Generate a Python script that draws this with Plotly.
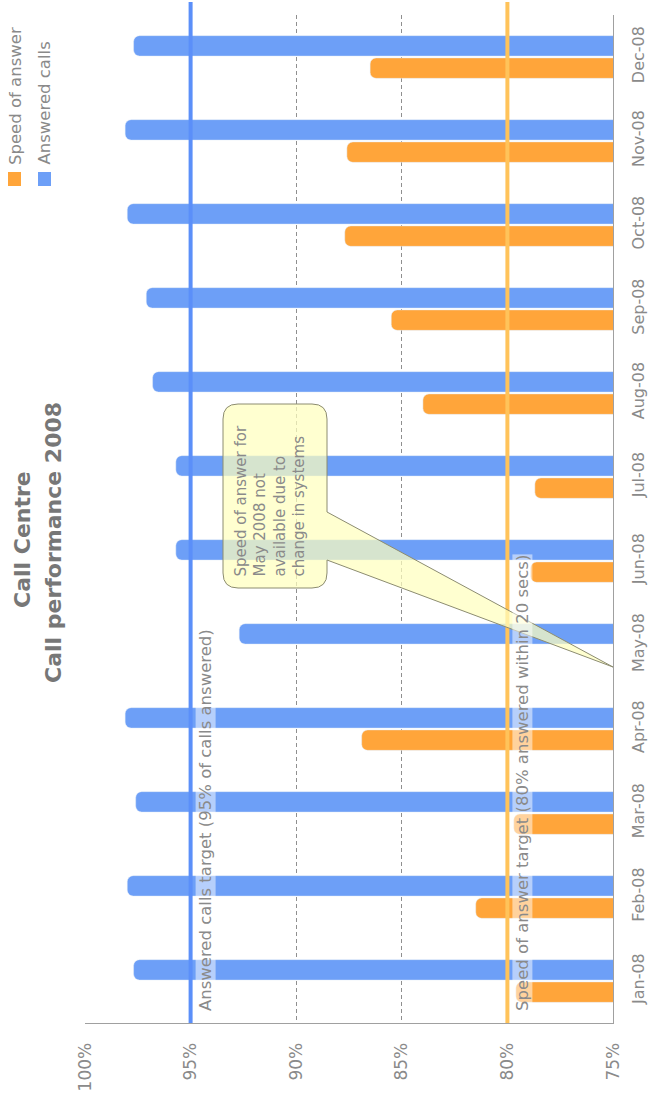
import plotly.graph_objects as go

months = ["Jan-08", "Feb-08", "Mar-08", "Apr-08", "May-08", "Jun-08",
          "Jul-08", "Aug-08", "Sep-08", "Oct-08", "Nov-08", "Dec-08"]
speed_of_answer = [79.6, 81.5, 79.7, 86.9, None, 78.9, 78.7, 84.0, 85.5, 87.7, 87.6, 86.5]
answered_calls = [97.7, 98.0, 97.6, 98.1, 92.7, 95.7, 95.7, 96.8, 97.1, 98.0, 98.1, 97.7]
answered_target = 95
speed_target = 80
value_ticks = [100, 95, 90, 85, 80, 75]
value_tick_labels = ["100%", "95%", "90%", "85%", "80%", "75%"]

ORANGE = "#ffa53a"
BLUE = "#6d9ff7"
GREY = "#8a8a8a"
FONT = "DejaVu Sans"

fig = go.Figure()
fig.add_trace(go.Bar(y=months, x=speed_of_answer, orientation="h", name="Speed of answer",
                     marker=dict(color=ORANGE, cornerradius=6), showlegend=False))
fig.add_trace(go.Bar(y=months, x=answered_calls, orientation="h", name="Answered calls",
                     marker=dict(color=BLUE, cornerradius=6), showlegend=False))

L, R, T, B = 85, 37, 15, 75
W, H = 650, 1098
pw, ph = W - L - R, H - T - B

def px(x):
    return (x - L) / pw

def py(y):
    return (H - B - y) / ph

shapes = [
    dict(type="line", xref="x", yref="paper", x0=answered_target, x1=answered_target,
         y0=0, y1=py(2), line=dict(color="#5b8ff9", width=4), layer="above"),
    dict(type="line", xref="x", yref="paper", x0=speed_target, x1=speed_target,
         y0=0, y1=py(2), line=dict(color="#ffc35a", width=4), layer="above"),
]

# callout box with pointer toward May-08
x0, x1 = px(223), px(327)
yt, yb = py(404), py(588)
rx, ry = 15 / pw, 15 / ph
pb1, pb2 = py(512), py(560)
tipx, tipy = px(613), py(667)
path = (f"M {x0+rx},{yt} L {x1-rx},{yt} Q {x1},{yt} {x1},{yt-ry} L {x1},{pb1} "
        f"L {tipx},{tipy} L {x1},{pb2} L {x1},{yb+ry} Q {x1},{yb} {x1-rx},{yb} "
        f"L {x0+rx},{yb} Q {x0},{yb} {x0},{yb+ry} L {x0},{yt-ry} Q {x0},{yt} {x0+rx},{yt} Z")
shapes.append(dict(type="path", xref="paper", yref="paper", path=path,
                   fillcolor="rgba(255,255,190,0.72)", line=dict(color="#8c8c70", width=1),
                   layer="above"))

# legend squares
shapes.append(dict(type="rect", xref="paper", yref="paper", x0=px(8), x1=px(21),
                   y0=py(186), y1=py(172), fillcolor=ORANGE, line=dict(width=0)))
shapes.append(dict(type="rect", xref="paper", yref="paper", x0=px(38), x1=px(51),
                   y0=py(186), y1=py(172), fillcolor=BLUE, line=dict(width=0)))

annotations = [
    dict(text="<b>Call Centre</b>", xref="paper", yref="paper", x=px(23), y=py(540),
         textangle=-90, showarrow=False, font=dict(family=FONT, size=22, color="#777777"),
         xanchor="center", yanchor="middle"),
    dict(text="<b>Call performance 2008</b>", xref="paper", yref="paper", x=px(53), y=py(543),
         textangle=-90, showarrow=False, font=dict(family=FONT, size=22, color="#777777"),
         xanchor="center", yanchor="middle"),
    dict(text="Speed of answer", xref="paper", yref="paper", x=px(15), y=py(167),
         textangle=-90, showarrow=False, font=dict(family=FONT, size=16.5, color=GREY),
         xanchor="center", yanchor="bottom"),
    dict(text="Answered calls", xref="paper", yref="paper", x=px(44), y=py(167),
         textangle=-90, showarrow=False, font=dict(family=FONT, size=16.5, color=GREY),
         xanchor="center", yanchor="bottom"),
    dict(text="Answered calls target (95% of calls answered)", xref="x", yref="paper",
         x=answered_target, y=py(1012), xshift=4, textangle=-90, showarrow=False,
         font=dict(family=FONT, size=16.5, color=GREY), bgcolor="rgba(255,255,255,0.5)",
         xanchor="left", yanchor="bottom", borderpad=0),
    dict(text="Speed of answer target (80% answered within 20 secs)", xref="x", yref="paper",
         x=speed_target, y=py(1012), xshift=4, textangle=-90, showarrow=False,
         font=dict(family=FONT, size=16.5, color=GREY), bgcolor="rgba(255,255,255,0.5)",
         xanchor="left", yanchor="bottom", borderpad=0),
    dict(text="Speed of answer for<br>May 2008 not<br>available due to<br>change in systems",
         xref="paper", yref="paper", x=px(270), y=py(579), textangle=-90, showarrow=False,
         align="left", font=dict(family=FONT, size=15, color=GREY),
         xanchor="center", yanchor="bottom"),
]

fig.update_layout(
    width=W, height=H, autosize=False,
    margin=dict(l=L, r=R, t=T, b=B, autoexpand=False),
    paper_bgcolor="white", plot_bgcolor="white",
    barmode="group", bargap=0.47, bargroupgap=0.08,
    font=dict(family=FONT, color=GREY),
    shapes=shapes, annotations=annotations,
    xaxis=dict(range=[100, 75], tickvals=value_ticks, ticktext=value_tick_labels,
               tickangle=-90, automargin=False,
               showgrid=True, gridcolor="#8f8f8f", griddash="4px,3px", gridwidth=1,
               showline=True, linecolor="#a0a0a0", linewidth=1, zeroline=False,
               tickfont=dict(family=FONT, size=17, color=GREY), ticklabelstandoff=12),
    yaxis=dict(type="category", categoryorder="array", categoryarray=months, side="right",
               showline=True, linecolor="#a0a0a0", linewidth=1, showgrid=False,
               automargin=False,
               tickangle=-90, tickfont=dict(family=FONT, size=16, color=GREY),
               ticklabelstandoff=11, range=[-0.5, 11.5]),
)

fig.write_html("out.html")
